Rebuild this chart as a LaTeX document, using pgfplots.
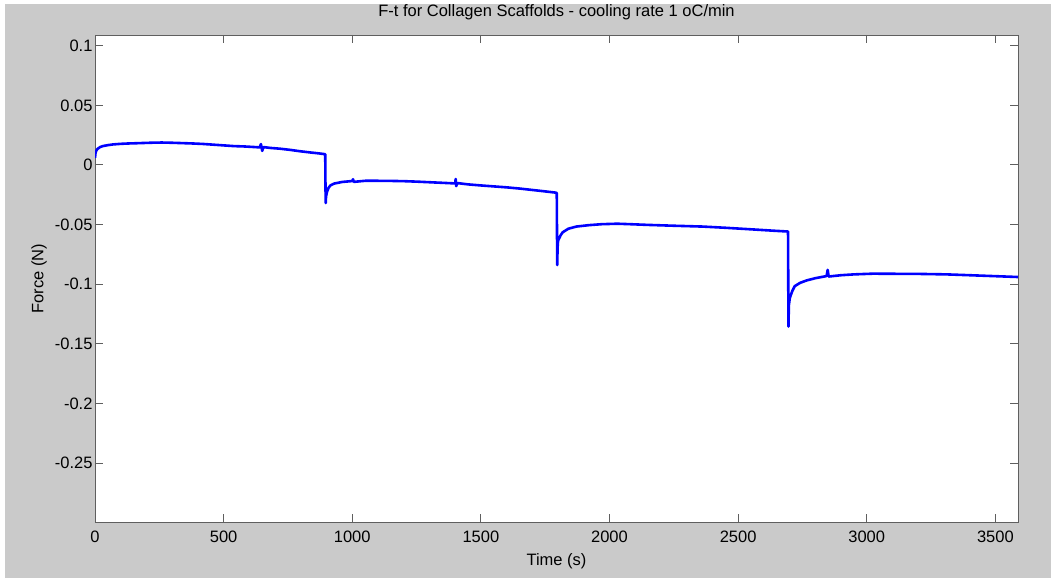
\documentclass[border=0pt]{standalone}
\usepackage{pgfplots}
\pgfplotsset{compat=1.18}
\usepackage{fontspec}
\setmainfont{Liberation Sans}
\definecolor{figgray}{RGB}{202,202,202}
\definecolor{axgray}{RGB}{95,95,95}
\begin{document}
\begin{tikzpicture}
\useasboundingbox (0,0) rectangle (1051pt,578pt);
\fill[figgray] (5pt,0) rectangle (1051pt,574pt);
\begin{axis}[
  at={(95pt,56pt)}, anchor=south west,
  scale only axis, width=923pt, height=487pt,
  xmin=0, xmax=3588, ymin=-0.2995, ymax=0.109,
  xtick={0,500,...,3500},
  ytick={-0.25,-0.2,-0.15,-0.1,-0.05,0,0.05,0.1},
  yticklabels={-0.25,-0.2,-0.15,-0.1,-0.05,0,0.05,0.1},
  xticklabels={0,500,1000,1500,2000,2500,3000,3500},
  font=\fontsize{16.5}{19}\selectfont,
  axis background/.style={fill=white},
  axis line style={axgray, line width=0.9pt},
  tick style={axgray, line width=0.9pt},
  major tick length=8pt,
  tick align=inside,
  xtick pos=both, ytick pos=both,
  xticklabel style={yshift=-5pt},
  yticklabel style={xshift=1pt},
  title={F-t for Collagen Scaffolds - cooling rate 1 oC/min},
  every axis title shift=0pt,
  title style={at={(0.5,1)}, anchor=center, yshift=23pt},
  xlabel={Time (s)},
  xlabel style={at={(0.5,0)}, anchor=center, yshift=-39pt},
  ylabel={Force (N)},
  ylabel style={at={(0,0.5)}, anchor=center, yshift=56pt},
]
\addplot[blue, line width=2.6pt, line join=round] coordinates {
(0,0.006) (2,0.010) (5,0.012) (10,0.0135) (20,0.0150) (30,0.0158) (50,0.0166)
(70,0.0172) (100,0.0177) (130,0.0180) (160,0.0182) (200,0.0185) (230,0.0187)
(260,0.0188) (300,0.0186) (340,0.0183) (380,0.0180) (420,0.0176) (460,0.0170)
(500,0.0164) (540,0.0158) (580,0.0155) (620,0.0150) (640,0.0147) (645,0.0175)
(650,0.0118) (655,0.0150) (680,0.0143) (720,0.0136) (760,0.0126) (800,0.0114)
(840,0.0104) (870,0.0097) (895,0.0090)
(896,-0.0200) (897,-0.0320) (898,-0.0265) (902,-0.0225) (908,-0.0192)
(915,-0.0172) (930,-0.0156) (960,-0.0143) (1000,-0.0135) (1003,-0.0120)
(1006,-0.0142) (1050,-0.0133) (1100,-0.0133) (1150,-0.0134) (1200,-0.0136)
(1250,-0.0140) (1300,-0.0145) (1350,-0.0150) (1400,-0.0155) (1402,-0.0118)
(1404,-0.0178) (1408,-0.0152) (1450,-0.0163) (1500,-0.0172) (1550,-0.0180)
(1600,-0.0188) (1650,-0.0198) (1700,-0.0210) (1750,-0.0222) (1790,-0.0232)
(1795,-0.0235)
(1796,-0.0600) (1797,-0.0840) (1798,-0.0700) (1800,-0.0636) (1810,-0.0590)
(1818,-0.0565) (1840,-0.0535) (1871,-0.0517) (1920,-0.0505) (1970,-0.0497)
(2030,-0.0493) (2080,-0.0497) (2150,-0.0503) (2250,-0.0510) (2363,-0.0517)
(2450,-0.0527) (2550,-0.0540) (2640,-0.0552) (2690,-0.0558) (2694,-0.0559)
(2695,-0.1050) (2696,-0.1356) (2697,-0.1180) (2701,-0.1116) (2710,-0.1060)
(2720,-0.1017) (2740,-0.0990) (2766,-0.0969) (2800,-0.0950) (2844,-0.0932)
(2848,-0.0880) (2852,-0.0936) (2900,-0.0925) (2950,-0.0918) (3024,-0.0912)
(3100,-0.0913) (3200,-0.0914) (3310,-0.0918) (3400,-0.0925) (3500,-0.0933)
(3588,-0.0940)
};
\end{axis}
\end{tikzpicture}
\end{document}
